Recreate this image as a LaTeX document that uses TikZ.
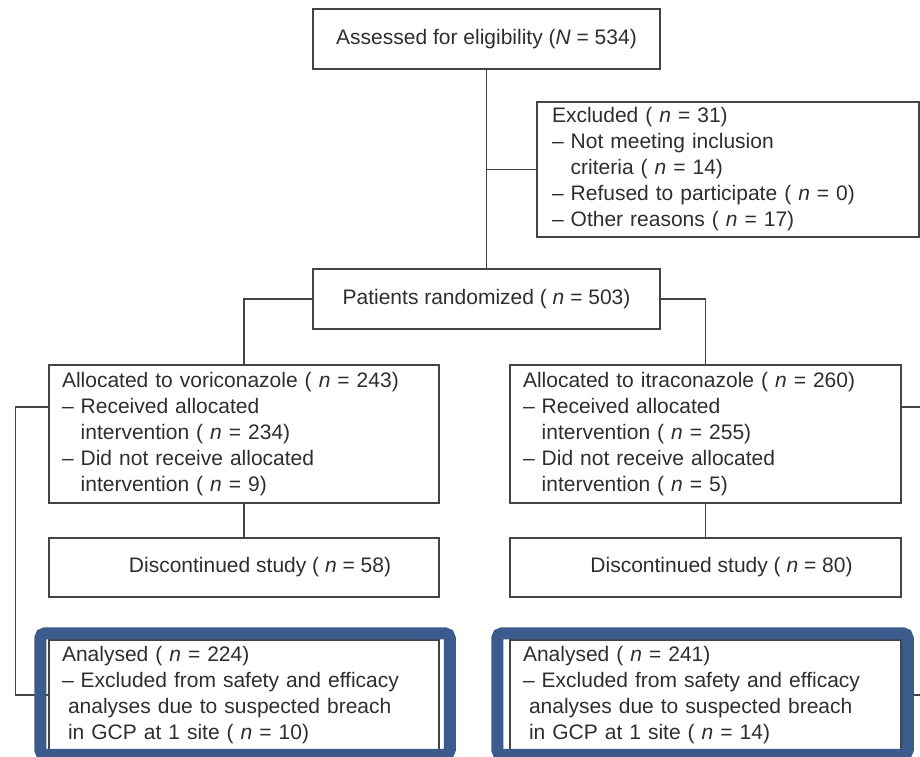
\documentclass[tikz,border=0pt]{standalone}
\usepackage{fontspec}
\setmainfont{Liberation Sans}
\usepackage{tikz}

\definecolor{linegray}{HTML}{444444}
\definecolor{textgray}{HTML}{2E2E2E}
\definecolor{frameblue}{HTML}{3A5B8C}
\newcommand{\ncount}[1]{( \textit{n} = #1)}

\begin{document}
\begin{tikzpicture}[x=1pt,y=-1pt,
    box/.style={draw=linegray, line width=1.5pt, text=textgray, inner sep=0pt,
                font=\fontsize{21pt}{26pt}\selectfont},
    listbox/.style={box, align=left},
    link/.style={draw=linegray, line width=1.5pt},
    analframe/.style={draw=frameblue, line width=12pt, rounded corners=5pt}]
    \useasboundingbox (0,0) rectangle (920,756);
    \clip (0,0) rectangle (920,756);
    \fill[white] (0,0) rectangle (920,756);

    % top of the chart
    \node[box, minimum width=347, minimum height=60] (assess) at (486.5,39)
        {Assessed for eligibility (\textit{N} = 534)};
    \node[listbox, minimum height=135, text width=352, inner xsep=15] (excl) at (728,169.5)
        {Excluded \ncount{31}\\
         – Not meeting inclusion\\
         \phantom{– }criteria \ncount{14}\\
         – Refused to participate \ncount{0}\\
         – Other reasons \ncount{17}};
    \node[box, minimum width=347, minimum height=60] (rand) at (486.5,299)
        {Patients randomized \ncount{503}};

    % the two arms
    \node[listbox, minimum height=138, text width=364, inner xsep=13] (allocL) at (244,434)
        {Allocated to voriconazole \ncount{243}\\
         – Received allocated\\
         \phantom{– }intervention \ncount{234}\\
         – Did not receive allocated\\
         \phantom{– }intervention \ncount{9}};
    \node[listbox, minimum height=138, text width=365, inner xsep=13] (allocR) at (705.5,434)
        {Allocated to itraconazole \ncount{260}\\
         – Received allocated\\
         \phantom{– }intervention \ncount{255}\\
         – Did not receive allocated\\
         \phantom{– }intervention \ncount{5}};

    \node[box, minimum width=390, minimum height=59] (discL) at (244,567.5)
        {\hspace*{32pt}Discontinued study \ncount{58}};
    \node[box, minimum width=391, minimum height=59] (discR) at (705.5,567.5)
        {\hspace*{32pt}Discontinued study \ncount{80}};

    \node[listbox, minimum height=110, text width=364, inner xsep=13] (analL) at (244,695)
        {Analysed \ncount{224}\\
         – Excluded from safety and efficacy\\
         \hspace*{6pt}analyses due to suspected breach\\
         \hspace*{6pt}in GCP at 1 site \ncount{10}};
    \node[listbox, minimum height=110, text width=365, inner xsep=13] (analR) at (705.5,695)
        {Analysed \ncount{241}\\
         – Excluded from safety and efficacy\\
         \hspace*{6pt}analyses due to suspected breach\\
         \hspace*{6pt}in GCP at 1 site \ncount{14}};

    % connectors
    \draw[link] (assess.south) -- (rand.north);
    \draw[link] (assess.south |- excl.west) -- (excl.west);
    \draw[link] (rand.west) -| (allocL.north);
    \draw[link] (rand.east) -| (allocR.north);
    \draw[link] (allocL.south) -- (discL.north);
    \draw[link] (allocR.south) -- (discR.north);
    \draw[link] ([yshift=27pt]allocL.west) -- ++(-33,0) |- (analL.west);
    \draw[link] ([yshift=27pt]allocR.east) -- ++(30,0) |- (analR.east);

    % highlight frames
    \draw[analframe] ([xshift=-8pt,yshift=6pt]analL.north west)
        rectangle ([xshift=10pt,yshift=-4pt]analL.south east);
    \draw[analframe] ([xshift=-12pt,yshift=6pt]analR.north west)
        rectangle ([xshift=6pt,yshift=-4pt]analR.south east);
\end{tikzpicture}
\end{document}
